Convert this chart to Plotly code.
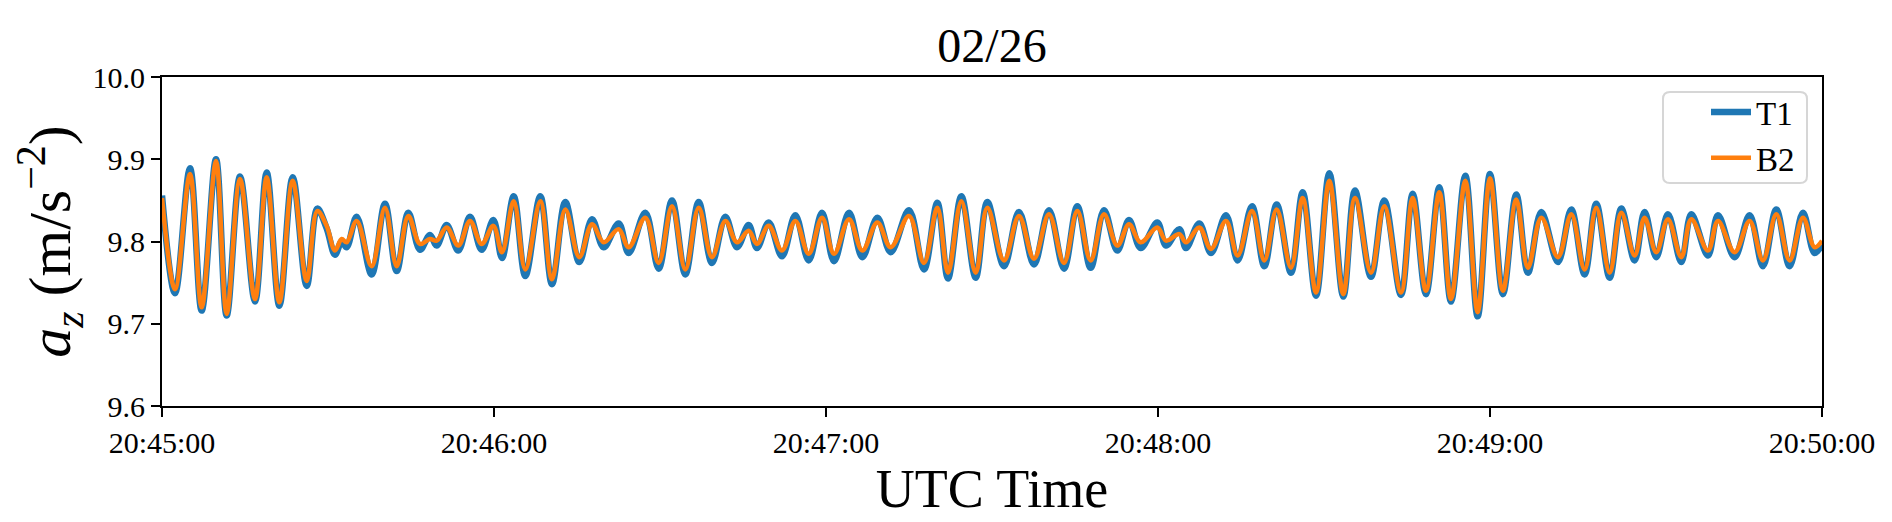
import plotly.graph_objects as go

# Time in seconds after 20:45:00 (extrema)
seconds = [0.0, 2.35, 5.06, 7.17, 9.76, 11.69, 14.10, 16.81, 18.92, 21.21, 23.62, 26.15, 28.07, 29.76,
           31.27, 32.47, 33.37, 35.18, 37.89, 40.30, 42.41, 44.52, 46.63, 48.43, 49.64, 51.45, 53.55,
           55.66, 57.77, 59.88, 61.45, 63.56, 65.66, 68.37, 70.48, 72.89, 75.42, 77.71, 79.82, 82.53,
           84.34, 87.35, 89.76, 92.17, 94.58, 96.99, 99.40, 101.81, 103.92, 106.02, 107.53, 109.64,
           112.05, 114.46, 116.87, 119.28, 121.45, 124.16, 126.57, 129.28, 131.69, 135.00, 137.71,
           140.12, 142.05, 144.46, 147.05, 149.16, 152.17, 154.88, 157.59, 160.30, 163.01, 165.42,
           167.83, 170.24, 172.65, 174.76, 176.87, 179.88, 181.45, 183.86, 185.06, 187.47, 189.58,
           192.29, 194.40, 196.99, 199.22, 201.45, 204.04, 206.15, 208.56, 210.96, 213.49, 215.60,
           218.49, 220.90, 223.92, 226.03, 228.43, 230.84, 232.95, 235.54, 237.77, 240.00, 242.34,
           244.75, 246.86, 249.27, 252.28, 254.69, 257.10, 259.21, 261.62, 263.73, 266.14, 267.94,
           270.05, 272.16, 274.57, 276.38, 279.39, 281.20, 284.21, 286.92, 289.33, 291.74, 294.15,
           296.56, 298.66, 300.00]

b2 = [9.853, 9.742, 9.882, 9.720, 9.898, 9.712, 9.876, 9.730, 9.878, 9.726, 9.874, 9.752, 9.837, 9.819,
      9.789, 9.803, 9.799, 9.825, 9.770, 9.841, 9.770, 9.831, 9.797, 9.803, 9.801, 9.817, 9.795,
      9.825, 9.797, 9.819, 9.787, 9.849, 9.766, 9.849, 9.754, 9.839, 9.781, 9.821, 9.799, 9.815,
      9.793, 9.829, 9.774, 9.843, 9.766, 9.841, 9.781, 9.825, 9.799, 9.813, 9.797, 9.819,
      9.789, 9.825, 9.785, 9.829, 9.785, 9.827, 9.789, 9.823, 9.793, 9.831, 9.774,
      9.841, 9.762, 9.849, 9.762, 9.841, 9.777, 9.831, 9.779, 9.833, 9.774, 9.837,
      9.777, 9.833, 9.795, 9.821, 9.799, 9.817, 9.801, 9.809, 9.799, 9.817, 9.791,
      9.825, 9.783, 9.837, 9.777, 9.839, 9.768, 9.853, 9.738, 9.874, 9.736, 9.853,
      9.762, 9.843, 9.738, 9.853, 9.740, 9.860, 9.730, 9.874, 9.714, 9.877, 9.740,
      9.851, 9.768, 9.829, 9.781, 9.833, 9.766, 9.841, 9.762, 9.835, 9.783, 9.829,
      9.787, 9.827, 9.781, 9.827, 9.789, 9.825, 9.787, 9.825, 9.777, 9.833, 9.777,
      9.829, 9.793, 9.801]

t1 = [9.856, 9.737, 9.889, 9.716, 9.900, 9.710, 9.879, 9.727, 9.884, 9.722, 9.878, 9.746, 9.840, 9.816,
      9.784, 9.800, 9.793, 9.830, 9.760, 9.846, 9.764, 9.835, 9.790, 9.808, 9.795, 9.820, 9.789,
      9.830, 9.790, 9.826, 9.780, 9.855, 9.758, 9.855, 9.748, 9.848, 9.775, 9.827, 9.793, 9.822,
      9.786, 9.835, 9.767, 9.850, 9.760, 9.848, 9.774, 9.830, 9.793, 9.820, 9.792, 9.823,
      9.782, 9.832, 9.777, 9.835, 9.776, 9.835, 9.781, 9.829, 9.787, 9.838, 9.766,
      9.847, 9.755, 9.855, 9.756, 9.848, 9.770, 9.836, 9.772, 9.838, 9.767, 9.843,
      9.768, 9.838, 9.789, 9.826, 9.792, 9.823, 9.795, 9.815, 9.792, 9.822, 9.786,
      9.832, 9.777, 9.843, 9.770, 9.845, 9.762, 9.860, 9.734, 9.883, 9.733, 9.862,
      9.757, 9.850, 9.735, 9.858, 9.736, 9.866, 9.727, 9.880, 9.709, 9.882, 9.736,
      9.857, 9.762, 9.836, 9.775, 9.839, 9.760, 9.846, 9.756, 9.840, 9.777, 9.836,
      9.781, 9.833, 9.775, 9.833, 9.783, 9.832, 9.781, 9.832, 9.770, 9.839, 9.770,
      9.835, 9.786, 9.796]

tick_seconds = [0, 60, 120, 180, 240, 300]
tick_labels = ["20:45:00", "20:46:00", "20:47:00", "20:48:00", "20:49:00", "20:50:00"]
y_ticks = [9.6, 9.7, 9.8, 9.9, 10.0]
y_tick_labels = ["9.6", "9.7", "9.8", "9.9", "10.0"]

FONT = "Liberation Serif"

# page offset (browser body margin) compensation
W, H = 1884, 514
L, T, R, B = 154, 69, 70, 116
PW, PH = W - L - R, H - T - B

def px_to_paper_x(px):
    return (px - 8 - L) / PW

def px_to_paper_y(py):
    return 1 - (py - 8 - T) / PH

fig = go.Figure()
fig.add_trace(go.Scatter(x=seconds, y=t1, name="T1", mode="lines",
                         line=dict(color="#1f77b4", width=6.5, shape="spline", smoothing=1.0)))
fig.add_trace(go.Scatter(x=seconds, y=b2, name="B2", mode="lines",
                         line=dict(color="#ff7f0e", width=4.5, shape="spline", smoothing=1.0)))

axis_common = dict(showline=True, linecolor="black", linewidth=2, mirror=True,
                   ticks="outside", ticklen=9, tickwidth=2, tickcolor="black",
                   showgrid=False, zeroline=False,
                   tickfont=dict(family=FONT, size=30, color="black"))

# rounded legend frame
x0, x1 = px_to_paper_x(1663), px_to_paper_x(1807)
y0, y1 = px_to_paper_y(183), px_to_paper_y(92)
rx, ry = 7 / PW, 7 / PH
frame_path = (f"M {x0+rx},{y1} L {x1-rx},{y1} Q {x1},{y1} {x1},{y1-ry} "
              f"L {x1},{y0+ry} Q {x1},{y0} {x1-rx},{y0} L {x0+rx},{y0} "
              f"Q {x0},{y0} {x0},{y0+ry} L {x0},{y1-ry} Q {x0},{y1} {x0+rx},{y1} Z")

fig.update_layout(
    width=W, height=H,
    margin=dict(l=L, r=R, t=T, b=B),
    paper_bgcolor="white", plot_bgcolor="white",
    title=dict(text="02/26", xref="paper", x=0.5, xanchor="center", y=1 - 37 / H, yanchor="middle",
               font=dict(family=FONT, size=48, color="black")),
    xaxis=dict(range=[0, 300], tickvals=tick_seconds, ticktext=tick_labels,
               title=dict(text="UTC Time", font=dict(family=FONT, size=54, color="black"), standoff=4),
               **axis_common),
    yaxis=dict(range=[9.6, 10.0], tickvals=y_ticks, ticktext=y_tick_labels,
               title=dict(text="<i>a</i><sub><i>z</i></sub> (m/s<sup>−2</sup>)",
                          font=dict(family=FONT, size=60, color="black"), standoff=8),
               **axis_common),
    shapes=[dict(type="path", xref="paper", yref="paper", path=frame_path,
                 line=dict(color="#d6d6d6", width=2), fillcolor="white", layer="above")],
    legend=dict(x=px_to_paper_x(1706), xanchor="left", y=px_to_paper_y(84), yanchor="top",
                bgcolor="rgba(0,0,0,0)", borderwidth=0,
                font=dict(family=FONT, size=33, color="black"),
                itemwidth=40, tracegroupgap=0),
    showlegend=True,
)

fig.write_html("out.html")
